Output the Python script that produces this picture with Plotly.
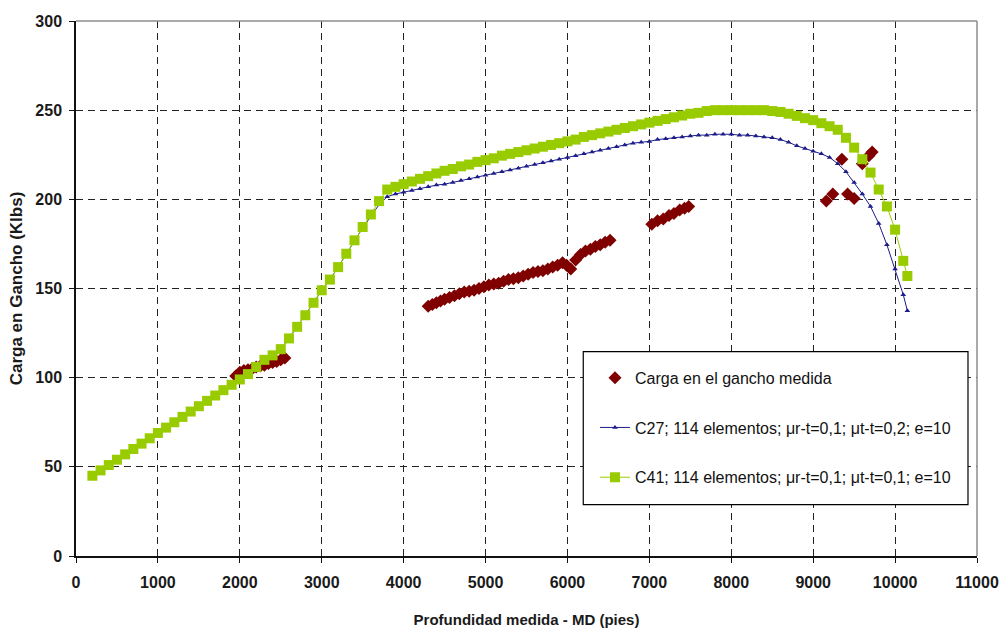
import plotly.graph_objects as go

# ---- Data ----
depth_model = [200, 300, 400, 500, 600, 700, 800, 900, 1000, 1100, 1200, 1300, 1400, 1500,
               1600, 1700, 1800, 1900, 2000, 2100, 2200, 2300, 2400, 2500, 2600, 2700, 2800,
               2900, 3000, 3100, 3200, 3300, 3400, 3500, 3600, 3700, 3800, 3900, 4000, 4100,
               4200, 4300, 4400, 4500, 4600, 4700, 4800, 4900, 5000, 5100, 5200, 5300, 5400,
               5500, 5600, 5700, 5800, 5900, 6000, 6100, 6200, 6300, 6400, 6500, 6600, 6700,
               6800, 6900, 7000, 7100, 7200, 7300, 7400, 7500, 7600, 7700, 7800, 7900, 8000,
               8100, 8200, 8300, 8400, 8500, 8600, 8700, 8800, 8900, 9000, 9100, 9200, 9300,
               9400, 9500, 9600, 9700, 9800, 9900, 10000, 10100, 10150]

c41_load = [45, 48, 51, 54, 57, 60, 63, 66, 69, 72, 75, 78, 81, 84,
            87, 90, 93, 96, 99, 102, 106, 110, 112.5, 116, 122, 128.5, 135,
            142, 149, 155, 162, 169.5, 177, 184.5, 191.5, 199, 205.5, 207, 208.5, 210,
            211.5, 213, 214.5, 216, 217, 218.5, 219.5, 221, 222, 223, 224.5, 225.5, 226.5,
            227.5, 228.5, 229.5, 230.5, 231.5, 232.5, 233.5, 235, 236, 237, 238, 239, 240,
            241, 242, 243, 244, 245, 246, 247, 248, 248.5, 249.5, 250, 250, 250,
            250, 250, 250, 250, 249.5, 249, 248, 246.8, 245.5, 244.4, 242.7, 241, 239,
            234.5, 229, 222.5, 215, 205.5, 196, 183, 165.5, 157]

c27_load = [45, 48, 51, 54, 57, 60, 63, 66, 69, 72, 75, 78, 81, 84,
            87, 90, 93, 96, 99, 102, 106, 110, 112.5, 116, 122, 128.5, 135,
            142, 149, 155, 162, 169.5, 177, 184, 190.5, 197, 201.5, 203, 204, 205,
            206, 207, 208, 208.5, 209.5, 210.5, 211.5, 212.5, 213.5, 214.5, 215.5, 216.5, 217.5,
            218.5, 219.5, 220.5, 221.5, 222.5, 223.5, 224.5, 225.5, 226.5, 227.5, 228.5, 229.5, 230.5,
            231.5, 232, 232.5, 233.5, 234, 234.5, 235, 235.5, 236, 236, 236.5, 236.5, 236.5,
            236, 236, 235.5, 235, 234.5, 233.5, 232, 230, 228.5, 227, 225.5, 223.5, 220,
            215.5, 209.5, 203, 196, 186.5, 174.5, 161, 146.5, 137.5]

meas_depth = [1950, 2000, 2050, 2100, 2150, 2200, 2250, 2300, 2350, 2400, 2450, 2500, 2550,
              4300, 4350, 4400, 4450, 4500, 4560, 4620, 4680, 4740, 4800, 4860, 4920, 4980,
              5040, 5100, 5160, 5220, 5280, 5340, 5400, 5460, 5520, 5580, 5640, 5700, 5760,
              5820, 5880, 5940, 5990, 6040, 6100, 6160, 6220, 6280, 6340, 6400, 6460, 6520,
              7030, 7100, 7170, 7240, 7300, 7370, 7430, 7480,
              9160, 9240, 9350, 9420, 9500, 9600, 9680, 9720]
meas_load = [101, 103, 104, 104.5, 105, 106, 106.5, 107, 108, 108.5, 109, 110, 111,
             140, 141, 142, 143, 144, 145, 146, 147, 148, 148.5, 149, 150, 151,
             152, 152.5, 153, 154, 155, 155.5, 156, 157, 158, 159, 159.5, 160, 161,
             162, 163, 164.5, 163, 161, 166, 169, 171, 172, 173.5, 174.5, 176, 177,
             186, 188, 189, 191, 192, 194, 195, 196,
             199, 203, 222.5, 203, 200.5, 220, 224.5, 226.5]

x_ticks = [0, 1000, 2000, 3000, 4000, 5000, 6000, 7000, 8000, 9000, 10000, 11000]
y_ticks = [0, 50, 100, 150, 200, 250, 300]

name_meas = "Carga en el gancho medida"
name_c27 = "C27; 114 elementos; \u03bcr-t=0,1; \u03bct-t=0,2; e=10"
name_c41 = "C41; 114 elementos; \u03bcr-t=0,1; \u03bct-t=0,1; e=10"

FONT = "Liberation Sans, Arial, sans-serif"

fig = go.Figure()
fig.add_trace(go.Scatter(
    x=meas_depth, y=meas_load, mode="markers", name=name_meas, legendgroup="a",
    marker=dict(symbol="diamond", size=10, color="#800000", line=dict(width=0)),
))
fig.add_trace(go.Scatter(
    x=depth_model, y=c27_load, mode="lines+markers", name=name_c27, legendgroup="b",
    line=dict(color="#1c1c8a", width=1),
    marker=dict(symbol="triangle-up", size=5, color="#1c1c8a"),
))
fig.add_trace(go.Scatter(
    x=depth_model, y=c41_load, mode="lines+markers", name=name_c41, legendgroup="c",
    line=dict(color="#99cc00", width=1),
    marker=dict(symbol="square", size=10, color="#99cc00", line=dict(width=0)),
))

axis_common = dict(
    showgrid=True, gridcolor="#222222", gridwidth=1, griddash="7px,5px",
    showline=True, linecolor="#111111", linewidth=1.5,
    ticks="outside", ticklen=5, tickcolor="#111111", tickwidth=1,
    zeroline=False, automargin=False,
)

fig.update_layout(
    width=1007, height=631,
    margin=dict(l=75.5, r=30, t=21, b=74.5),
    paper_bgcolor="white", plot_bgcolor="white",
    font=dict(family=FONT, color="#111111"),
    xaxis=dict(
        range=[0, 11000], tickvals=x_ticks, ticktext=[str(v) for v in x_ticks],
        tickfont=dict(size=16, family=FONT, weight="bold", color="#1a1a1a"),
        ticklabelstandoff=6,
        title=dict(text="Profundidad medida - MD (pies)", standoff=25,
                   font=dict(size=15, family=FONT, weight="bold", color="#1a1a1a")),
        **axis_common,
    ),
    yaxis=dict(
        range=[0, 300], tickvals=y_ticks, ticktext=[str(v) for v in y_ticks],
        tickfont=dict(size=16, family=FONT, weight="bold", color="#1a1a1a"),
        ticklabelstandoff=4,
        title=dict(text="Carga en Gancho (Klbs)", standoff=8,
                   font=dict(size=17, family=FONT, weight="bold", color="#1a1a1a")),
        **axis_common,
    ),
    showlegend=True,
    legend=dict(
        x=0.576, y=0.365, xanchor="left", yanchor="top",
        bgcolor="rgba(0,0,0,0)", borderwidth=0,
        font=dict(size=16, family=FONT, color="#111111"),
        tracegroupgap=26, itemsizing="trace",
    ),
    shapes=[
        dict(type="line", xref="paper", yref="paper", x0=0, x1=1, y0=1, y1=1,
             line=dict(color="#8c8c8c", width=1.5), layer="above"),
        dict(type="line", xref="paper", yref="paper", x0=1, x1=1, y0=0, y1=1,
             line=dict(color="#8c8c8c", width=1.5), layer="above"),
        dict(type="rect", xref="paper", yref="paper", x0=0.563, x1=0.990, y0=0.096, y1=0.382,
             line=dict(color="#000000", width=1.2), fillcolor="white", layer="above"),
    ],
)

fig.write_html(
    "out.html",
    config={"displayModeBar": False},
    post_script="document.body.style.margin='0';document.body.style.overflow='hidden';",
)
